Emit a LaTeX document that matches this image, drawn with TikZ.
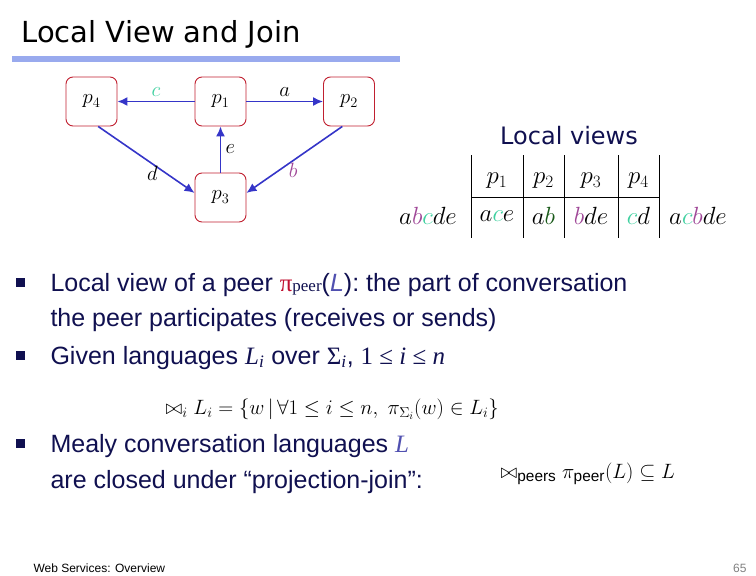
\documentclass[tikz,border=0pt]{standalone}
\usepackage{amsmath,amssymb}
\usepackage{fontspec}
\setmainfont{Liberation Sans}
\newfontfamily\titlefont{DejaVu Sans}
\newfontfamily\mathserif{Liberation Serif}
\usetikzlibrary{arrows.meta}
\definecolor{navy}{HTML}{101050}
\definecolor{boxred}{HTML}{C02030}
\definecolor{arrblue}{HTML}{3535C8}
\definecolor{cgreen}{HTML}{40D0A0}
\definecolor{bmag}{HTML}{A04898}
\definecolor{dgreen}{HTML}{1A5A1A}
\definecolor{lblue}{HTML}{5050B0}
\definecolor{pired}{HTML}{C01030}
\definecolor{rule}{HTML}{99AAEE}
\tikzset{
 peer/.style={draw=boxred,line width=0.9pt,rounded corners=7pt,minimum width=51pt,minimum height=49pt,font=\fontsize{20}{20}\selectfont},
 msg/.style={draw=arrblue,line width=1.6pt,-{Latex[length=10pt,width=9pt]}},
 lab/.style={font=\fontsize{22}{22}\selectfont},
 body/.style={anchor=base west,text=navy,font=\fontsize{25}{25}\selectfont},
 bul/.style={fill=navy,minimum size=9pt,inner sep=0pt},
 tline/.style={draw=black,line width=0.6pt}
}
\begin{document}
\begin{tikzpicture}[x=1pt,y=-1pt]
\useasboundingbox (0,0) rectangle (756,576);
\node[anchor=base west,font=\titlefont\fontsize{29}{29}\selectfont] (title) at (18,42) {Local View and Join};
\fill[rule] (12,56) rectangle (400,62);
% graph
\node[peer] (p4) at (91.5,101.5) {$p_4$};
\node[peer] (p1) at (220.5,101.5) {$p_1$};
\node[peer] (p2) at (349,101.5) {$p_2$};
\node[peer] (p3) at (220.5,197.5) {$p_3$};
\draw[msg] (p1) -- node[lab,above=1pt,text=cgreen]{$c$} (p4);
\draw[msg] (p1) -- node[lab,above=1pt]{$a$} (p2);
\draw[msg] (p3) -- node[lab,right=1pt]{$e$} (p1);
\draw[msg] (p4.-75) -- node[lab,pos=0.5,xshift=6pt,yshift=-14pt]{$d$} (p3.170);
\draw[msg] (p2.-105) -- node[lab,pos=0.45,xshift=-6pt,yshift=-14pt,text=bmag]{$b$} (p3.10);
% local views
\node[font=\titlefont\fontsize{24}{24}\selectfont,text=navy] (lv) at (569,136) {Local views};
\draw[tline] (471,155) -- (471,238);
\draw[tline] (523,155) -- (523,238);
\draw[tline] (564,155) -- (564,238);
\draw[tline] (618,155) -- (618,238);
\draw[tline] (659,155) -- (659,238);
\draw[tline] (471,197) -- (659,197);
\begin{scope}[font=\fontsize{24}{24}\selectfont]
\node (h1) at (497,181) {$p_1$};
\node (h2) at (543.5,181) {$p_2$};
\node (h3) at (591,181) {$p_3$};
\node (h4) at (638.5,181) {$p_4$};
\node (w1) at (428,216) {$a\textcolor{bmag}{b}\textcolor{cgreen}{c}de$};
\node (v1) at (497,216) {$a\textcolor{cgreen}{c}e$};
\node (v2) at (543.5,216) {$a\textcolor{dgreen}{b}$};
\node (v3) at (591,216) {$\textcolor{bmag}{b}de$};
\node (v4) at (638.5,216) {$\textcolor{cgreen}{c}d$};
\node (w2) at (698,216) {$a\textcolor{cgreen}{c}\textcolor{bmag}{b}de$};
\end{scope}
% bullets
\node[bul] (b1) at (20,282) {};
\node[bul] (b2) at (20,355) {};
\node[bul] (b3) at (20,443) {};
\node[body] (t1) at (47,291) {Local view of a peer {\mathserif\textcolor{pired}{π}\fontsize{17}{17}\selectfont peer}(\textcolor{lblue}{\itshape L}): the part of conversation};
\node[body] (t2) at (47,326) {the peer participates (receives or sends)};
\node[body] (t3) at (47,364) {Given languages {\mathserif\itshape L\textsubscript{i}} over {\mathserif Σ\textsubscript{\itshape i}}, {\mathserif 1 ≤ \itshape i\upshape\ ≤ \itshape n}};
\node[anchor=base west,font=\fontsize{22}{22}\selectfont] (f1) at (162,414) {$\bowtie_i L_i=\left\{w\,\middle|\,\forall 1\le i\le n,\ \pi_{\Sigma_i}(w)\in L_i\right\}$};
\node[body] (t4) at (47,452) {Mealy conversation languages {\mathserif\itshape\textcolor{lblue}{L}}};
\node[body] (t5) at (47,488) {are closed under “projection-join”:};
\node[anchor=base west,font=\fontsize{22}{22}\selectfont] (f2) at (497,478) {$\bowtie_{\mathrm{peers}}\pi_{\mathrm{peer}}(L)\subseteq L$};
\node[anchor=base west,font=\fontsize{12}{12}\selectfont] (foot) at (30,572) {Web Services: Overview};
\node[anchor=base east,font=\fontsize{12}{12}\selectfont,text=gray] (pg) at (750,572) {65};
\end{tikzpicture}
\end{document}
